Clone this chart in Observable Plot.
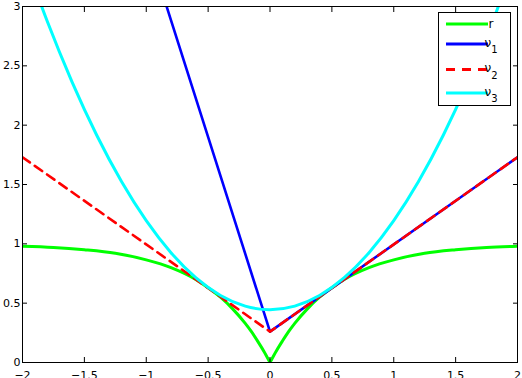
<!DOCTYPE html>
<html>
<head>
<meta charset="utf-8">
<script src="https://cdn.jsdelivr.net/npm/d3@7"></script>
<script src="https://cdn.jsdelivr.net/npm/@observablehq/plot@0.6"></script>
<style>
  html, body { margin: 0; padding: 0; background: white; }
</style>
</head>
<body>
<div id="chart"></div>
<script>
// ---- data ----
const xTicks = [-2, -1.5, -1, -0.5, 0, 0.5, 1, 1.5, 2];
const yTicks = [0, 0.5, 1, 1.5, 2, 2.5, 3];

// r (green): two branches meeting in a cusp at 0
const rX = [-2, -1.75, -1.5, -1.25, -1, -0.8, -0.6, -0.5, -0.4, -0.3, -0.2, -0.15, -0.1, -0.05, 0];
const rY = [0.98, 0.97, 0.95, 0.92, 0.865, 0.80, 0.70, 0.63, 0.55, 0.45, 0.33, 0.26, 0.18, 0.095, 0.0];

// nu1 (blue): steep left branch, vertex, right branch
const nu1X = [-1, 0, 2];
const nu1Y = [3.54, 0.26, 1.73];

// nu2 (red dashed): symmetric V
const nu2X = [-2, 0, 2];
const nu2Y = [1.73, 0.26, 1.73];

// nu3 (cyan): U-shaped curve
const nu3X = [-2, -1.8, -1.6, -1.4, -1.2, -1, -0.8, -0.6, -0.4, -0.2, 0, 0.2, 0.4, 0.6, 0.8, 1, 1.2, 1.4, 1.6, 1.8, 2];
const nu3Y = [3.45, 2.875, 2.365, 1.915, 1.525, 1.195, 0.925, 0.715, 0.565, 0.475, 0.445, 0.475, 0.565, 0.715, 0.925, 1.195, 1.525, 1.915, 2.365, 2.875, 3.45];

const legendLabels = ["r", "ν1", "ν2", "ν3"];
const seriesColors = ["#00ff00", "#0000ff", "#ff0000", "#00ffff"];

// ---- tables built from the arrays ----
const rData = [
  ...rX.map((x, i) => ({x, y: rY[i], side: "left"})),
  ...rX.slice().reverse().map((x, i) => ({x: -x, y: rY[rX.length - 1 - i], side: "right"}))
];
const nu1Data = nu1X.map((x, i) => ({x, y: nu1Y[i]}));
const nu2Data = nu2X.map((x, i) => ({x, y: nu2Y[i]}));
const nu3Data = nu3X.map((x, i) => ({x, y: nu3Y[i]}));

const fmt = d => (d < 0 ? "\u2212" + Math.abs(d) : String(d));
const font = "'DejaVu Sans', 'Liberation Sans', Arial, sans-serif";

const chart = Plot.plot({
  width: 522,
  height: 378,
  marginLeft: 22,
  marginRight: 5,
  marginTop: 6,
  marginBottom: 16,
  style: {fontFamily: font, fontSize: "11px", background: "white", color: "black", overflow: "hidden"},
  x: {domain: [-2, 2], label: null},
  y: {domain: [0, 3], label: null},
  marks: [
    Plot.line(rData, {x: "x", y: "y", z: "side", stroke: seriesColors[0], strokeWidth: 3, curve: "monotone-x", clip: true}),
    Plot.line(nu1Data, {x: "x", y: "y", stroke: seriesColors[1], strokeWidth: 2.6, clip: true}),
    Plot.line(nu2Data, {x: "x", y: "y", stroke: seriesColors[2], strokeWidth: 2.6, strokeDasharray: "9,6", clip: true}),
    Plot.line(nu3Data, {x: "x", y: "y", stroke: seriesColors[3], strokeWidth: 3, curve: "monotone-x", clip: true}),
    Plot.frame({stroke: "black"}),
    // inward ticks on all four sides
    Plot.axisX(xTicks, {anchor: "bottom", tickSize: 5, dy: -5, tickFormat: () => "", label: null}),
    Plot.axisX(xTicks, {anchor: "top", tickSize: 5, dy: 5, tickFormat: () => "", label: null}),
    Plot.axisY(yTicks, {anchor: "left", tickSize: 5, dx: 5, tickFormat: () => "", label: null}),
    Plot.axisY(yTicks, {anchor: "right", tickSize: 5, dx: -5, tickFormat: () => "", label: null}),
    // tick labels
    Plot.axisX(xTicks, {anchor: "bottom", tickSize: 0, tickPadding: 9, tickFormat: fmt, label: null}),
    Plot.axisY(yTicks, {anchor: "left", tickSize: 0, tickPadding: 2, tickFormat: fmt, label: null})
  ]
});

// ---- legend box (top right, inside the frame) ----
const svg = d3.select(chart);
const lg = svg.append("g").attr("font-family", font).attr("font-size", 12).attr("fill", "black");
lg.append("rect").attr("x", 438.5).attr("y", 12.5).attr("width", 72).attr("height", 93)
  .attr("fill", "white").attr("stroke", "black").attr("stroke-width", 1);
const rowY = [24, 44, 69.5, 93];
legendLabels.forEach((lab, i) => {
  lg.append("line").attr("x1", 446).attr("x2", 488).attr("y1", rowY[i]).attr("y2", rowY[i])
    .attr("stroke", seriesColors[i]).attr("stroke-width", 3)
    .attr("stroke-dasharray", i === 2 ? "9,7" : null);
  const t = lg.append("text").attr("x", 491).attr("y", rowY[i] + (lab.length > 1 ? 2.5 : 4));
  t.append("tspan").text(lab[0]);
  if (lab.length > 1) {
    t.append("tspan").attr("dy", 6.5).attr("font-size", 10).text(lab.slice(1));
  }
});

document.getElementById("chart").appendChild(chart);
</script>
</body>
</html>
